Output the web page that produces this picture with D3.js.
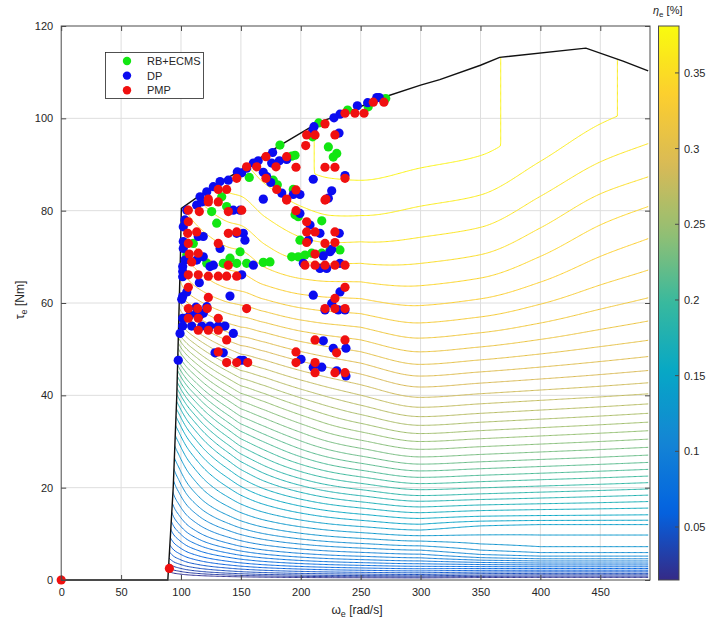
<!DOCTYPE html>
<html><head><meta charset="utf-8">
<script src="https://cdn.jsdelivr.net/npm/d3@7"></script>
<style>
body{margin:0;background:#fff}
text{font-family:"Liberation Sans",Arial,Helvetica,sans-serif;fill:#262626}
</style>
</head><body>
<svg id="chart" width="707" height="625"></svg>
<script>
// ---------------- data ----------------
const xTicks = [0, 50, 100, 150, 200, 250, 300, 350, 400, 450];
const yTicks = [0, 20, 40, 60, 80, 100, 120];
const cbTicks = [0.05, 0.1, 0.15, 0.2, 0.25, 0.3, 0.35];
const cbLabels = ["0.05", "0.1", "0.15", "0.2", "0.25", "0.3", "0.35"];
const legendNames = ["RB+ECMS", "DP", "PMP"];

// engine operating envelope (speed rad/s, torque Nm)
const boundarySpeed  = [0, 89, 93.5, 96.5, 98.5, 99.5, 100.3, 125, 150, 183, 216, 233, 266, 300, 316, 350, 366, 438, 469, 490];
const boundaryTorque = [0, 0, 20, 40, 60, 70, 80.5, 85, 88.8, 94.2, 99.3, 100.7, 104.3, 107.2, 108.4, 111.5, 113.2, 115.2, 112.4, 110.3];

// efficiency read along the 300 rad/s column
const profileTorque = [0, 0.5, 1, 2, 3, 4, 5, 6, 8, 10, 12, 15, 20, 25, 30, 35, 40, 45, 50, 55, 60, 70, 80, 90, 100, 110, 120, 200];
const profileEta    = [0, 0.022, 0.038, 0.058, 0.073, 0.086, 0.097, 0.106, 0.122, 0.135, 0.147, 0.165, 0.195, 0.222, 0.245, 0.266, 0.284, 0.3, 0.314, 0.326, 0.336, 0.352, 0.364, 0.373, 0.378, 0.382, 0.385, 0.39];
// torque stretch of the iso-lines at other speeds (low torque / high torque)
const speedKnots = [88, 90, 92, 94, 96, 98, 100, 105, 110, 120, 130, 140, 150, 170, 200, 225, 250, 300, 350, 400, 450, 495];
const scaleLow   = [4.5, 4.0, 3.6, 3.3, 3.1, 2.95, 2.8, 2.5, 2.3, 2.0, 1.8, 1.65, 1.52, 1.35, 1.2, 1.12, 1.07, 1.0, 1.02, 1.04, 1.06, 1.08];
const scaleHigh  = [1.6, 1.55, 1.5, 1.45, 1.4, 1.35, 1.3, 1.25, 1.22, 1.18, 1.15, 1.13, 1.12, 1.06, 1.0, 0.975, 0.97, 1.0, 1.03, 1.12, 1.22, 1.28];
const blendStart = [20, 20, 20, 20, 20, 20, 20, 20, 20, 20, 20, 20, 20, 25, 30, 35, 40, 40, 40, 40, 40, 40];
const blendEnd   = [65, 65, 65, 65, 65, 65, 65, 65, 65, 65, 65, 65, 65, 70, 75, 80, 85, 85, 85, 85, 85, 85];
const plateauWeight = [0, 0, 0, 0, 0, 0, 0, 0, 0, 0, 0, 0, 0, 0, 0, 0, 0, 0, 0.7, 1, 1, 1];
// low-torque plateau seen at high speed
const plateauTorque = [0, 0.5, 1, 2, 3, 4, 5, 6, 7, 8, 9, 10, 11, 12, 13, 14, 16, 18];
const plateauEta    = [0, 0.018, 0.032, 0.055, 0.075, 0.093, 0.108, 0.118, 0.124, 0.128, 0.131, 0.133, 0.135, 0.14, 0.148, 0.155, 0.166, 0.178];
// maximum efficiency along speed
const capSpeed = [84, 210, 225, 345, 370, 455, 468, 495];
const capEta   = [0.371, 0.371, 0.39, 0.39, 0.37, 0.37, 0.363, 0.363];
const levelStart = 0.02, levelStep = 0.0075, levelCount = 48;

// operating points [speed, torque]
const ecmsPoints = [[270.9,104.3],[256.3,102.5],[239.1,101.8],[214.9,99.0],[209.9,96.0],[223,93.8],[230,92.4],[227.1,91.6],[182.6,94.2],[195.2,92.0],[192.4,91.8],[157,87.2],[177,86.6],[180.4,85.6],[193.7,84.6],[134,83.0],[125.6,79.8],[129.8,77.3],[138.1,80.9],[110.3,72.9],[104.8,70.4],[140.9,69.7],[121.5,68.6],[135.3,68.6],[146.5,68.6],[195.2,79.1],[197.9,78.7],[217.5,77.8],[199.3,73.6],[192.4,70],[197.9,70],[203.5,70.4],[209.1,70.8],[217.5,70.8],[224.4,71.5],[232.7,71.5],[149.3,71.1],[154.8,68.6],[168.7,68.8],[174.3,68.9]];
const dpPoints = [[263.4,104.5],[265.5,104.5],[255.8,103.4],[247.2,102.7],[232.7,100.9],[227.7,100.1],[211,98.2],[209.9,97.3],[231.9,96.8],[236.9,87.6],[210.4,86.8],[225.8,84.3],[223,82.7],[176.5,92.6],[164.5,90.8],[160.4,90.3],[154.8,89.2],[150.7,88.2],[175.7,90.3],[182.1,90.8],[188.2,91.1],[168.7,88.3],[171.5,87.4],[174.9,86.1],[184.1,83.8],[193.7,83.5],[199.3,83.5],[168.7,82.5],[147,88.4],[139.5,86.6],[132.6,86.3],[127,85.2],[121.5,84.1],[115.9,83],[104.8,80.1],[113.1,81.2],[117.3,81.9],[143.7,80.1],[149.3,80.1],[103.3,78],[101.9,76.5],[114.4,74.4],[118.6,74.4],[146.5,75.1],[101.9,73.3],[132.6,71.8],[101.9,71.8],[118.6,70],[103.3,69.3],[113.1,69.3],[124.2,67.9],[127,68.2],[101.4,67.9],[101.4,66.8],[101.4,65.7],[115.3,64.4],[104.8,62.4],[101.4,61.4],[100.6,60.8],[140.9,61.5],[112.5,59.1],[121.5,59.2],[101.4,56.7],[103.3,56.7],[107.5,57.4],[113.1,57.8],[115.9,57.4],[101.4,55],[108.9,55],[117.3,55],[124.2,55],[131.1,55],[136.7,55],[99.2,53.4],[143.7,53.4],[128.4,49.2],[135.3,49.2],[149.3,47.6],[97.7,47.6],[152,75.1],[153.4,73.6],[199.3,79.4],[207.7,76.9],[216,75.1],[232.1,75.1],[206.3,73.6],[218.8,70.2],[224.4,71.1],[225.8,71.6],[160.4,68.2],[150.7,66.1],[202.1,68.6],[216,67.5],[221.6,67.5],[232.7,68.6],[232.7,62.4],[225.8,59.9],[210.4,61.7],[220.2,58.5],[231.3,58.5],[236.9,58.5],[218.8,51.8],[227.1,50.2],[237.7,50.2],[200.2,47.8],[210.4,46.1],[217.5,46.1],[230,45.3],[237.7,44.2],[152,47.6],[118.6,57.8]];
const pmpPoints = [[260.5,103.5],[269.4,103.5],[236.9,101.1],[245.2,101.1],[252.8,101.1],[220.2,98.8],[204.9,96.4],[211.9,96.4],[204.1,94.1],[228.5,96.4],[220.2,89.4],[228.5,89.4],[236.9,87],[221,82.5],[170.9,91.7],[154.8,89.5],[163.2,89.5],[188.2,91.7],[196,89.4],[179.3,89.5],[170.9,87],[179.9,84.6],[196,84.5],[188.2,82.5],[146.5,87],[131.1,84.6],[138.1,84.6],[122.8,82.5],[106.1,80.1],[115.3,79.8],[122.8,81.9],[131.1,81.9],[139.5,79.8],[106.1,77.6],[105.6,75.1],[113.1,75.4],[139.5,75.1],[146.5,75.4],[106.1,72.9],[131.1,72.9],[106.9,70.6],[114.4,70.8],[108.9,68.9],[139.5,68.2],[106.1,66.1],[114.4,66.1],[122.8,65.8],[131.1,65.8],[138.1,65.8],[146.5,65.8],[106.1,63.4],[122.8,61.2],[106.1,58.8],[113.9,58.8],[121.9,58.8],[106.1,56.7],[114.4,56.7],[131.1,56.7],[114.4,54.1],[122.8,54.1],[131.1,54.1],[138.1,52],[131.1,49.4],[138.1,47.1],[146.5,47.1],[155.7,47.1],[150.7,80.1],[188.2,82.3],[220.2,82.3],[196,80],[204.9,77.6],[204.9,75.4],[211.9,75.4],[228.5,75.4],[204.9,73.1],[220.2,72.9],[228.5,73.1],[211.9,70.6],[203.5,68.2],[211.9,68.2],[220.2,68.2],[228.5,68.2],[236.9,68.2],[236.9,63.4],[228.5,61],[220.2,58.8],[228.5,58.8],[236.9,58.8],[154.8,58.8],[211.9,52],[236.9,52],[229.9,49.2],[196,49.4],[196,47.1],[211.9,47.1],[211.9,44.9],[228.5,44.9],[236.9,44.9],[0,0],[90.3,2.5]];

// ---------------- helpers ----------------
// monotone cubic interpolation through read knots
function monotone(xs, ys) {
  const n = xs.length, dx = [], m = [], t = new Array(n);
  for (let i = 0; i < n - 1; i++) { dx[i] = xs[i + 1] - xs[i]; m[i] = (ys[i + 1] - ys[i]) / dx[i]; }
  t[0] = m[0]; t[n - 1] = m[n - 2];
  for (let i = 1; i < n - 1; i++) {
    if (m[i - 1] * m[i] <= 0) t[i] = 0;
    else { const w1 = 2 * dx[i] + dx[i - 1], w2 = dx[i] + 2 * dx[i - 1]; t[i] = (w1 + w2) / (w1 / m[i - 1] + w2 / m[i]); }
  }
  return function(v) {
    if (v <= xs[0]) return ys[0];
    if (v >= xs[n - 1]) return ys[n - 1];
    const i = Math.min(n - 2, d3.bisectRight(xs, v) - 1);
    const h = dx[i], s = (v - xs[i]) / h, s2 = s * s, s3 = s2 * s;
    return (2 * s3 - 3 * s2 + 1) * ys[i] + (s3 - 2 * s2 + s) * h * t[i] + (-2 * s3 + 3 * s2) * ys[i + 1] + (s3 - s2) * h * t[i + 1];
  };
}

// ---------------- layout ----------------
const svg = d3.select("#chart");
const plot = {left: 61.2, right: 650, top: 26, bottom: 580};
const x = d3.scaleLinear().domain([0, 491.5]).range([plot.left, plot.right]);
const y = d3.scaleLinear().domain([0, 120]).range([plot.bottom, plot.top]);

const parulaStops = ["#352a87","#0363e1","#1485d4","#06a7c6","#38b99e","#92bf73","#d9ba56","#fcce2e","#f9fb0e"];
const cDomain = [0.015, 0.381];
const color = d3.scaleSequential(d3.piecewise(d3.interpolateRgb, parulaStops)).domain(cDomain);

// grid lines
const grid = svg.append("g");
grid.selectAll(".gx").data(xTicks.slice(1)).join("line")
  .attr("x1", d => x(d)).attr("x2", d => x(d)).attr("y1", plot.top).attr("y2", plot.bottom)
  .attr("stroke", "#dedede").attr("stroke-width", 1);
grid.selectAll(".gy").data(yTicks.slice(1, -1)).join("line")
  .attr("y1", d => y(d)).attr("y2", d => y(d)).attr("x1", plot.left).attr("x2", plot.right)
  .attr("stroke", "#dedede").attr("stroke-width", 1);

// ---------------- efficiency field & contours ----------------
const prof = monotone(profileTorque, profileEta);
const sLow = monotone(speedKnots, scaleLow);
const sHigh = monotone(speedKnots, scaleHigh);
const bS = d3.scaleLinear().domain(speedKnots).range(blendStart).clamp(true);
const bE = d3.scaleLinear().domain(speedKnots).range(blendEnd).clamp(true);
const pW = d3.scaleLinear().domain(speedKnots).range(plateauWeight).clamp(true);
const plat = monotone(plateauTorque, plateauEta);
const cap = d3.scaleLinear().domain(capSpeed).range(capEta).clamp(true);

const W0 = 84, W1 = 494, dW = 1, T0 = -2, T1 = 122, dT = 0.25;
const n = Math.round((W1 - W0) / dW) + 1, m = Math.round((T1 - T0) / dT) + 1;
const values = new Float64Array(n * m);
for (let i = 0; i < n; i++) {
  const w = W0 + i * dW;
  const sl = sLow(w), sh = sHigh(w), pwv = pW(w), cp = cap(w), b0 = bS(w), b1 = bE(w);
  for (let j = 0; j < m; j++) {
    const t = T0 + j * dT;
    let e = 0;
    if (t > 0) {
      let wb = Math.max(0, Math.min(1, (t - b0) / (b1 - b0)));
      wb = wb * wb * (3 - 2 * wb);
      const s = sl * (1 - wb) + sh * wb;
      e = prof(t / s);
      const pw = pwv * Math.max(0, Math.min(1, (18 - t) / 6));
      e = e * (1 - pw) + plat(t) * pw;
      e = Math.min(e, cp);
    }
    values[i + j * n] = e;
  }
}
const levels = d3.range(levelCount).map(k => levelStart + k * levelStep);
const contours = d3.contours().size([n, m]).thresholds(levels)(values);
const proj = d3.geoTransform({
  point: function(px, py) {
    this.stream.point(x(W0 + (px - 0.5) * dW), y(T0 + (py - 0.5) * dT));
  }
});
const cpath = d3.geoPath(proj);

const clipPts = boundarySpeed.map((w, i) => [x(w), y(boundaryTorque[i])]).slice(1);
clipPts.push([x(490), y(0)]);
svg.append("clipPath").attr("id", "env").append("path")
  .attr("d", "M" + clipPts.map(p => p.join(",")).join("L") + "Z");

svg.append("g").attr("clip-path", "url(#env)")
  .selectAll("path").data(contours).join("path")
  .attr("d", cpath).attr("fill", "none")
  .attr("stroke", d => color(d.value)).attr("stroke-width", 1);

// envelope line
const line = d3.line().x(d => x(d[0])).y(d => y(d[1]));
svg.append("path").datum(boundarySpeed.map((w, i) => [w, boundaryTorque[i]]))
  .attr("d", line).attr("fill", "none").attr("stroke", "#111").attr("stroke-width", 1.4);

// ---------------- scatter ----------------
const seriesColors = ["#12e612", "#0b0bf0", "#f01010"];
[ecmsPoints, dpPoints, pmpPoints].forEach((pts, k) => {
  svg.append("g").selectAll("circle").data(pts).join("circle")
    .attr("cx", d => x(d[0])).attr("cy", d => y(d[1])).attr("r", 4.6)
    .attr("fill", seriesColors[k]);
});

// ---------------- axes ----------------
const ax = svg.append("g");
ax.append("rect").attr("x", plot.left).attr("y", plot.top)
  .attr("width", plot.right - plot.left).attr("height", plot.bottom - plot.top)
  .attr("fill", "none").attr("stroke", "#4a4a4a").attr("stroke-width", 1);
const xb = d3.axisBottom(x).tickValues(xTicks).tickSize(-5).tickPadding(8).tickFormat(d3.format("d"));
const yl = d3.axisLeft(y).tickValues(yTicks).tickSize(-5).tickPadding(8).tickFormat(d3.format("d"));
const xt = d3.axisTop(x).tickValues(xTicks).tickSize(-5).tickFormat("");
const yr = d3.axisRight(y).tickValues(yTicks).tickSize(-5).tickFormat("");
[[xb, `translate(0,${plot.bottom})`], [yl, `translate(${plot.left},0)`],
 [xt, `translate(0,${plot.top})`], [yr, `translate(${plot.right},0)`]].forEach(([a, tr]) => {
  const g = ax.append("g").attr("transform", tr).call(a);
  g.select(".domain").remove();
  g.selectAll(".tick line").attr("stroke", "#4a4a4a");
  g.selectAll(".tick text").attr("font-size", 11).attr("fill", "#404040")
    .style("font-family", "'Liberation Sans', Arial, sans-serif");
});

// axis labels
const xl = svg.append("text").attr("x", 357).attr("y", 614).attr("text-anchor", "middle").attr("font-size", 12).attr("fill", "#404040");
xl.append("tspan").text("ω");
xl.append("tspan").attr("font-size", 9).attr("dy", 3).text("e");
xl.append("tspan").attr("dy", -3).text(" [rad/s]");
const ylab = svg.append("text").attr("transform", "translate(24,300) rotate(-90)").attr("text-anchor", "middle").attr("font-size", 12).attr("fill", "#404040");
ylab.append("tspan").text("τ");
ylab.append("tspan").attr("font-size", 9).attr("dy", 3).text("e");
ylab.append("tspan").attr("dy", -3).text(" [Nm]");

// ---------------- legend ----------------
const lg = svg.append("g");
lg.append("rect").attr("x", 105.5).attr("y", 52.5).attr("width", 98).attr("height", 46)
  .attr("fill", "#fff").attr("stroke", "#262626").attr("stroke-width", 0.8);
legendNames.forEach((name, k) => {
  const yy = 61 + k * 14.6;
  lg.append("circle").attr("cx", 127).attr("cy", yy).attr("r", 4.2).attr("fill", seriesColors[k]);
  lg.append("text").attr("x", 147).attr("y", yy + 4).attr("font-size", 11).attr("fill", "#303030").text(name);
});

// ---------------- colorbar ----------------
const cb = {x: 658.5, w: 20.5, top: 26, bottom: 580};
const cy = d3.scaleLinear().domain(cDomain).range([cb.bottom, cb.top]);
const defs = svg.append("defs");
const grad = defs.append("linearGradient").attr("id", "parula").attr("x1", 0).attr("y1", 1).attr("x2", 0).attr("y2", 0);
d3.range(0, 1.0001, 0.02).forEach(t => {
  grad.append("stop").attr("offset", t).attr("stop-color", color(cDomain[0] + t * (cDomain[1] - cDomain[0])));
});
svg.append("rect").attr("x", cb.x).attr("y", cb.top).attr("width", cb.w).attr("height", cb.bottom - cb.top)
  .attr("fill", "url(#parula)").attr("stroke", "#4a4a4a").attr("stroke-width", 1);
const cbg = svg.append("g");
cbTicks.forEach((v, k) => {
  cbg.append("line").attr("x1", cb.x + cb.w - 4).attr("x2", cb.x + cb.w).attr("y1", cy(v)).attr("y2", cy(v))
    .attr("stroke", "#4a4a4a");
  cbg.append("text").attr("x", cb.x + cb.w + 5).attr("y", cy(v) + 4).attr("font-size", 11).attr("fill", "#404040").text(cbLabels[k]);
});
const ct = svg.append("text").attr("x", 653).attr("y", 14).attr("font-size", 11).attr("fill", "#404040");
ct.append("tspan").attr("font-style", "italic").text("η");
ct.append("tspan").attr("font-size", 8).attr("dy", 3).text("e");
ct.append("tspan").attr("dy", -3).text("  [%]");
</script>
</body></html>
